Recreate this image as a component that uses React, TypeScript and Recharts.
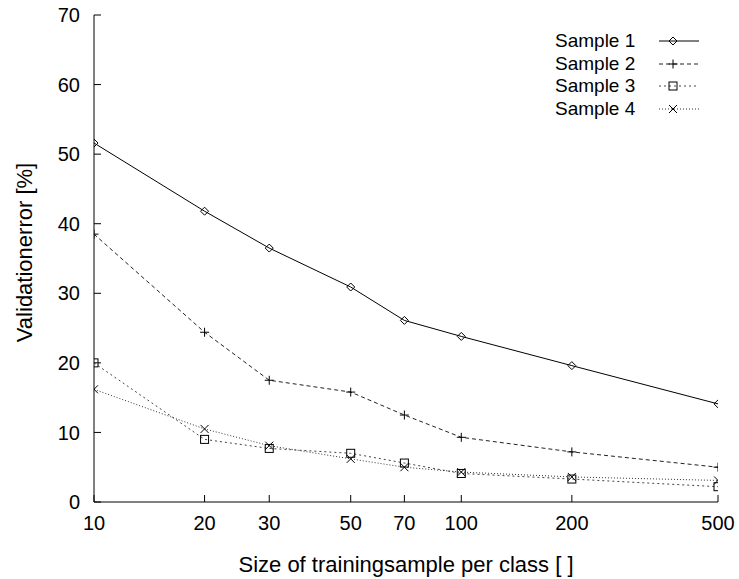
import { LineChart, Line, XAxis, YAxis, Legend } from "recharts";

const SIZES = [10, 20, 30, 50, 70, 100, 200, 500];
const SAMPLE_1 = [51.6, 41.8, 36.5, 30.9, 26.1, 23.8, 19.6, 14.1];
const SAMPLE_2 = [38.5, 24.4, 17.5, 15.8, 12.5, 9.3, 7.2, 5.0];
const SAMPLE_3 = [20.0, 9.0, 7.7, 7.0, 5.6, 4.1, 3.3, 2.2];
const SAMPLE_4 = [16.2, 10.5, 8.1, 6.2, 5.0, 4.3, 3.6, 3.1];
const Y_TICKS = [0, 10, 20, 30, 40, 50, 60, 70];

const data = SIZES.map((size, i) => ({
  size,
  s1: SAMPLE_1[i],
  s2: SAMPLE_2[i],
  s3: SAMPLE_3[i],
  s4: SAMPLE_4[i],
}));

const FONT = "'Liberation Sans', Arial, Helvetica, sans-serif";
const TICK_FS = 20;
const LEGEND_FS = 19;
const TITLE_FS = 22;

type Shape = "diamond" | "plus" | "square" | "cross";

function marker(shape: Shape, cx: number, cy: number, key?: string | number) {
  const common = { stroke: "#000", strokeWidth: 1, fill: "none" };
  if (shape === "diamond") {
    const r = 4;
    return (
      <path key={key} d={`M${cx},${cy - r}L${cx + r},${cy}L${cx},${cy + r}L${cx - r},${cy}Z`} {...common} />
    );
  }
  if (shape === "plus") {
    const r = 4.5;
    return <path key={key} d={`M${cx - r},${cy}H${cx + r}M${cx},${cy - r}V${cy + r}`} {...common} />;
  }
  if (shape === "square") {
    const r = 4;
    return <rect key={key} x={cx - r} y={cy - r} width={2 * r} height={2 * r} {...common} />;
  }
  const r = 4;
  return (
    <path key={key} d={`M${cx - r},${cy - r}L${cx + r},${cy + r}M${cx - r},${cy + r}L${cx + r},${cy - r}`} {...common} />
  );
}

const SERIES: { key: string; name: string; shape: Shape; dash?: string; color: string }[] = [
  { key: "s1", name: "Sample 1", shape: "diamond", color: "#000" },
  { key: "s2", name: "Sample 2", shape: "plus", dash: "4 3", color: "#222" },
  { key: "s3", name: "Sample 3", shape: "square", dash: "2 3", color: "#444" },
  { key: "s4", name: "Sample 4", shape: "cross", dash: "1 2", color: "#333" },
];

function LegendBox() {
  return (
    <div style={{ fontFamily: FONT, fontSize: LEGEND_FS, color: "#000" }}>
      {SERIES.map((s) => (
        <div key={s.key} style={{ display: "flex", alignItems: "center", height: 22.6 }}>
          <span style={{ width: 103, whiteSpace: "nowrap" }}>{s.name}</span>
          <svg width={42} height={14}>
            <line x1={1} y1={7} x2={41} y2={7} stroke={s.color} strokeDasharray={s.dash} />
            {marker(s.shape, 15, 7)}
          </svg>
        </div>
      ))}
    </div>
  );
}

export default function App() {
  return (
    <div style={{ position: "absolute", left: 0, top: 0, background: "#fff" }}>
      <LineChart
        width={739}
        height={579}
        data={data}
        margin={{ top: 15, right: 21, bottom: 0, left: 0 }}
      >
        <XAxis
          dataKey="size"
          type="number"
          scale="log"
          domain={[10, 500]}
          ticks={SIZES}
          allowDataOverflow
          height={77}
          stroke="#000"
          tickSize={-7}
          tickMargin={21}
          tick={{ fill: "#000", fontSize: TICK_FS, fontFamily: FONT }}
          label={({ viewBox }: any) => (
            <text
              x={viewBox.x + viewBox.width / 2}
              y={viewBox.y + 70}
              textAnchor="middle"
              fontSize={TITLE_FS}
              fontFamily={FONT}
              fill="#000"
            >
              Size of trainingsample per class [ ]
            </text>
          )}
        />
        <XAxis
          xAxisId="top"
          dataKey="size"
          orientation="top"
          type="number"
          scale="log"
          domain={[10, 500]}
          ticks={SIZES}
          allowDataOverflow
          height={0}
          stroke="#000"
          tickSize={-7}
          tick={false}
        />
        <YAxis
          type="number"
          domain={[0, 70]}
          ticks={Y_TICKS}
          width={94}
          stroke="#000"
          tickSize={-7}
          tickMargin={21}
          tick={{ fill: "#000", fontSize: TICK_FS, fontFamily: FONT }}
          label={({ viewBox }: any) => {
            const cx = viewBox.x + 24;
            const cy = viewBox.y + viewBox.height / 2 - 6;
            return (
              <text
                x={cx}
                y={cy}
                transform={`rotate(-90, ${cx}, ${cy})`}
                textAnchor="middle"
                dominantBaseline="central"
                fontSize={TITLE_FS}
                fontFamily={FONT}
                fill="#000"
              >
                Validationerror [%]
              </text>
            );
          }}
        />
        <YAxis
          yAxisId="right"
          orientation="right"
          type="number"
          domain={[0, 70]}
          ticks={Y_TICKS}
          width={0}
          stroke="#000"
          tickSize={-7}
          tick={false}
        />
        <Legend
          layout="vertical"
          align="center"
          verticalAlign="middle"
          wrapperStyle={{ position: "absolute", left: 555, top: 30, width: "auto" }}
          content={() => <LegendBox />}
        />
        {SERIES.map((s) => (
          <Line
            key={s.key}
            dataKey={s.key}
            name={s.name}
            stroke={s.color}
            strokeWidth={1}
            strokeDasharray={s.dash}
            type="linear"
            dot={(p: any) => marker(s.shape, p.cx, p.cy, `${s.key}-${p.index}`)}
            activeDot={false}
            isAnimationActive={false}
          />
        ))}
      </LineChart>
    </div>
  );
}
